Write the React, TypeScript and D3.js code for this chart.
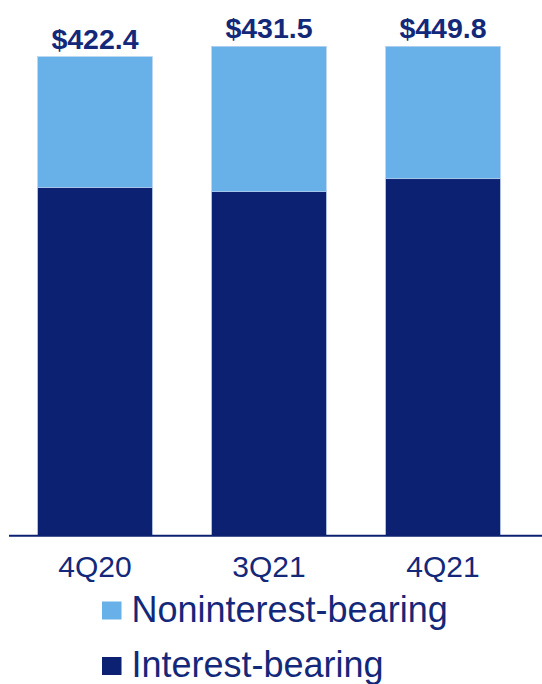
import React from "react";
import * as d3 from "d3";

const categories = ["4Q20", "3Q21", "4Q21"];
const interestBearing = [307.1, 303.3, 314.7];
const noninterestBearing = [115.3, 128.2, 135.1];
const totalLabels = ["$422.4", "$431.5", "$449.8"];
const seriesNames = ["Noninterest-bearing", "Interest-bearing"];

const W = 542;
const H = 684;
const NAVY = "#0d2172";
const LIGHT = "#67b1e8";
const TEXT = "#14287a";
const FONT = "'Liberation Sans', Arial, sans-serif";

export default function App() {
  const x = d3
    .scaleBand<string>()
    .domain(categories)
    .range([8, 530])
    .paddingInner(0.34)
    .paddingOuter(0.17);
  const y = d3.scaleLinear().domain([0, 431.5]).range([535.5, 46.3]).clamp(true);

  const rows = categories.map((c, i) => ({
    cat: c,
    interest: interestBearing[i],
    noninterest: noninterestBearing[i],
  }));
  const stack = d3.stack<any>().keys(["interest", "noninterest"]);
  const layers = stack(rows);
  const colors: Record<string, string> = { interest: NAVY, noninterest: LIGHT };

  return (
    <svg
      width={W}
      height={H}
      style={{ position: "absolute", left: 0, top: 0, background: "#fff" }}
      fontFamily={FONT}
    >
      {layers.map((layer) =>
        layer.map((d, i) => (
          <rect
            key={layer.key + i}
            x={x(categories[i])}
            width={x.bandwidth()}
            y={y(d[1])}
            height={y(d[0]) - y(d[1])}
            fill={colors[layer.key]}
            stroke="#b9d2ee"
            strokeWidth={0.6}
          />
        ))
      )}
      <line x1={9} x2={542} y1={535.7} y2={535.7} stroke={NAVY} strokeWidth={2} />
      {categories.map((c, i) => (
        <text
          key={"t" + c}
          x={(x(c) as number) + x.bandwidth() / 2}
          y={y(interestBearing[i] + noninterestBearing[i]) - 8}
          textAnchor="middle"
          fontSize={28.5}
          fontWeight="bold"
          fill={TEXT}
        >
          {totalLabels[i]}
        </text>
      ))}
      {categories.map((c) => (
        <text
          key={"c" + c}
          x={(x(c) as number) + x.bandwidth() / 2}
          y={577}
          textAnchor="middle"
          fontSize={30}
          fill={TEXT}
        >
          {c}
        </text>
      ))}
      {seriesNames.map((name, i) => (
        <g key={name} transform={`translate(102, ${601.5 + i * 55.5})`}>
          <rect width={19.5} height={18} fill={i === 0 ? LIGHT : NAVY} />
          <text x={29.5} y={20} fontSize={36} fill={TEXT}>
            {name}
          </text>
        </g>
      ))}
    </svg>
  );
}
